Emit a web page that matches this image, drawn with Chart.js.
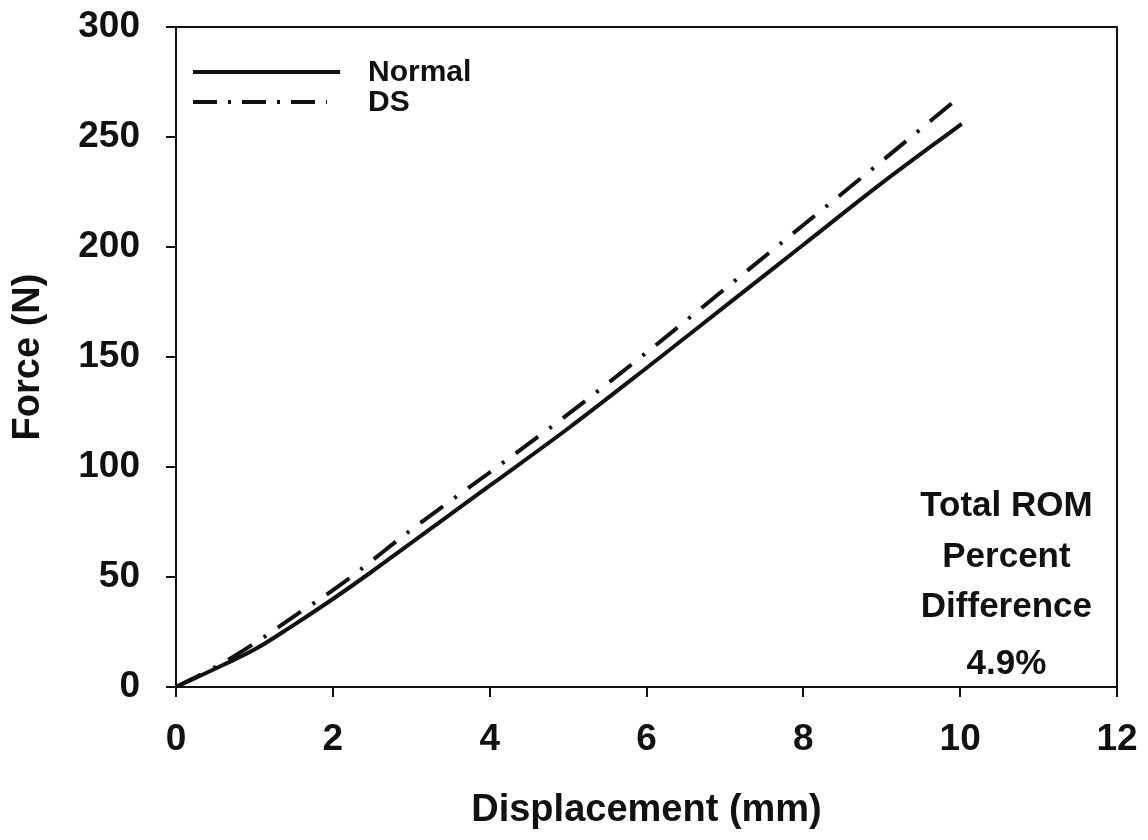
<!DOCTYPE html>
<html>
<head>
<meta charset="utf-8">
<script src="https://cdn.jsdelivr.net/npm/chart.js@4/dist/chart.umd.min.js"></script>
<style>
  html, body { margin: 0; padding: 0; background: #fff; }
  #wrap { width: 1148px; height: 840px; }
</style>
</head>
<body>
<div id="wrap"><canvas id="chartFuerza" width="1148" height="840"></canvas></div>
<script>
// valores
const dispNormal  = [0, 0.6, 1.0, 1.45, 2.0, 2.5, 3.0, 4.0, 5.0, 6.0, 7.0, 8.0, 9.0, 10.02];
const forceNormal = [0, 10, 17, 27, 40, 52.5, 65.5, 91.5, 117.5, 145, 173, 201, 229, 256];

const dispDS  = [0, 0.6, 1.05, 1.5, 2.1, 3.0, 4.0, 5.0, 6.0, 7.0, 8.0, 9.0, 9.95];
const forceDS = [0, 11, 21, 32, 46.5, 71.5, 97.5, 124, 152, 181, 210, 239, 267];

const seriesLabels = ['Normal', 'DS'];
const notaTexto = ['Total ROM', 'Percent', 'Difference', '4.9%'];

const fuente = '"Liberation Sans", Arial, sans-serif';

function puntos(xs, ys) {
    return xs.map((x, i) => ({ x: x, y: ys[i] }));
}

// marco superior y derecho
const marco = {
    id: 'marco',
    afterDraw(chart) {
        const { ctx, chartArea: a } = chart;
        ctx.save();
        ctx.strokeStyle = '#111';
        ctx.lineWidth = 2;
        ctx.beginPath();
        ctx.moveTo(a.left, a.top);
        ctx.lineTo(a.right, a.top);
        ctx.lineTo(a.right, a.bottom);
        ctx.stroke();
        ctx.restore();
    }
};

// leyenda arriba a la izquierda
const leyenda = {
    id: 'leyenda',
    afterDraw(chart) {
        const ctx = chart.ctx;
        const filas = [72, 102];
        const dashes = [[], [24, 11, 3, 11]];
        const fines = [340, 327];
        ctx.save();
        chart.data.datasets.forEach((ds, i) => {
            ctx.strokeStyle = ds.borderColor;
            ctx.lineWidth = ds.borderWidth;
            ctx.setLineDash(dashes[i]);
            ctx.beginPath();
            ctx.moveTo(193, filas[i]);
            ctx.lineTo(fines[i], filas[i]);
            ctx.stroke();
            ctx.setLineDash([]);
            ctx.fillStyle = '#111';
            ctx.font = 'bold 30px ' + fuente;
            ctx.textAlign = 'left';
            ctx.textBaseline = 'middle';
            ctx.fillText(ds.label, 368, filas[i] + 1);
        });
        ctx.restore();
    }
};

// nota abajo a la derecha
const nota = {
    id: 'nota',
    afterDraw(chart) {
        const { ctx, scales } = chart;
        const cx = scales.x.getPixelForValue(10.59);
        const ys = [82.3, 59, 36, 10.5];
        ctx.save();
        ctx.fillStyle = '#111';
        ctx.font = 'bold 35px ' + fuente;
        ctx.textAlign = 'center';
        ctx.textBaseline = 'middle';
        notaTexto.forEach((t, i) => {
            ctx.fillText(t, cx, scales.y.getPixelForValue(ys[i]));
        });
        ctx.restore();
    }
};

new Chart(document.getElementById('chartFuerza'), {
    type: 'line',
    data: {
        datasets: [{
            label: seriesLabels[0],
            data: puntos(dispNormal, forceNormal),
            borderColor: '#111',
            borderWidth: 4,
            pointRadius: 0,
            cubicInterpolationMode: 'monotone',
            fill: false
        }, {
            label: seriesLabels[1],
            data: puntos(dispDS, forceDS),
            borderColor: '#111',
            borderWidth: 4,
            borderDash: [28, 14, 3, 14],
            pointRadius: 0,
            cubicInterpolationMode: 'monotone',
            fill: false
        }]
    },
    options: {
        responsive: false,
        animation: false,
        layout: { padding: { top: 27, right: 31, left: 0, bottom: 0 } },
        plugins: {
            legend: { display: false },
            tooltip: { enabled: false }
        },
        scales: {
            x: {
                type: 'linear',
                min: 0, max: 12,
                afterFit(scale) {
                    scale.height = 153;
                    scale.paddingLeft = 0;
                    scale.paddingRight = 0;
                },
                border: { display: true, color: '#111', width: 2 },
                grid: { drawOnChartArea: false, drawTicks: true, tickLength: 10, color: '#111', lineWidth: 2 },
                ticks: { stepSize: 2, padding: 21, color: '#111', font: { family: fuente, size: 37, weight: 'bold' } },
                title: { display: true, text: 'Displacement (mm)', color: '#111', padding: { top: 0, bottom: 7 },
                    font: { family: fuente, size: 38, weight: 'bold' } }
            },
            y: {
                min: 0, max: 300,
                afterFit(scale) {
                    scale.width = 176;
                    scale.paddingTop = 0;
                    scale.paddingBottom = 0;
                },
                border: { display: true, color: '#111', width: 2 },
                grid: { drawOnChartArea: false, drawTicks: true, tickLength: 10, color: '#111', lineWidth: 2 },
                ticks: { stepSize: 50, padding: 26, color: '#111', font: { family: fuente, size: 37, weight: 'bold' } },
                title: { display: true, text: 'Force (N)', color: '#111', padding: { top: 6, bottom: 0 },
                    font: { family: fuente, size: 38, weight: 'bold' } }
            }
        }
    },
    plugins: [marco, leyenda, nota]
});
</script>
</body>
</html>
